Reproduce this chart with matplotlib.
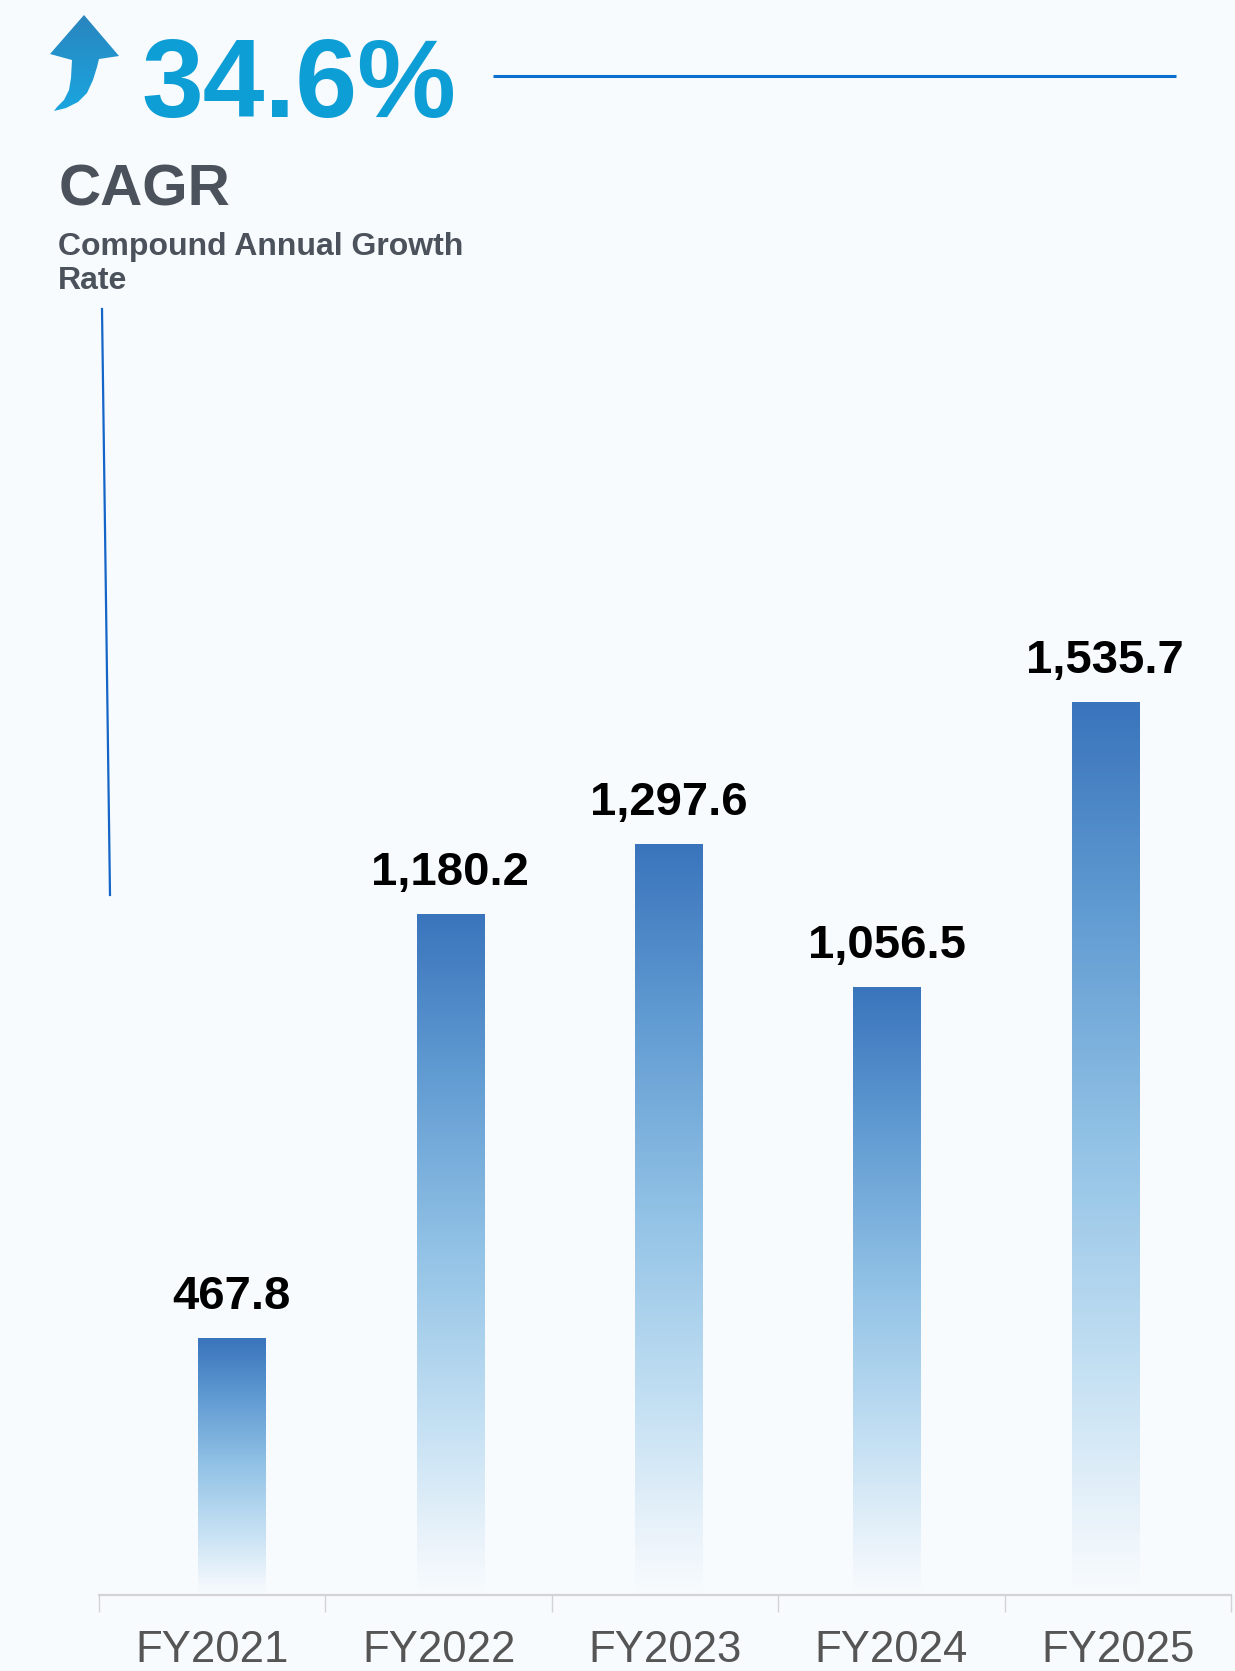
import numpy as np
import matplotlib
import matplotlib.pyplot as plt
from matplotlib.colors import LinearSegmentedColormap
from matplotlib.patches import Polygon

# ---- data ----
categories = ["FY2021", "FY2022", "FY2023", "FY2024", "FY2025"]
values = [467.8, 1180.2, 1297.6, 1056.5, 1535.7]
cagr_value = "34.6%"
cagr_title = "CAGR"
cagr_sub1 = "Compound Annual Growth"
cagr_sub2 = "Rate"

BG = "#F7FBFE"
W, H = 1235, 1671

fig = plt.figure(figsize=(W / 100, H / 100), dpi=100, facecolor=BG)

# decoration layer (figure pixel coordinates)
deco = fig.add_axes([0, 0, 1, 1], zorder=0)
deco.set_facecolor("none")

# arrow
arrow_pts = [(84, 15), (119, 56), (99, 59), (97, 67), (93, 80), (87, 93),
             (78, 102), (66, 108), (54, 111), (57, 107), (64, 100), (69, 90),
             (71, 78), (72, 60), (50, 54)]
poly = Polygon(arrow_pts, closed=True, facecolor="none", edgecolor="none")
deco.add_patch(poly)
acmap = LinearSegmentedColormap.from_list("a", ["#2A84BD", "#1AA6E0"])
agrad = np.linspace(0, 1, 128).reshape(-1, 1)
aim = deco.imshow(agrad, cmap=acmap, extent=(45, 125, 112, 12), aspect="auto",
                  origin="upper", interpolation="bicubic")
aim.set_clip_path(poly)

# lines
deco.plot([493, 1176], [76, 76], color="#0A6FD0", lw=2.2, solid_capstyle="butt")
deco.plot([102, 110], [309, 895], color="#1565C8", lw=1.6)
deco.set_xlim(0, W)
deco.set_ylim(H, 0)
deco.axis("off")

# texts
fig.text(141 / W, 1 - 117 / H, cagr_value, ha="left", va="baseline",
         fontsize=80, fontweight="bold", color="#0E9ED6",
         family=["Liberation Sans", "DejaVu Sans"])
fig.text(59 / W, 1 - 206 / H, cagr_title, ha="left", va="baseline",
         fontsize=42, fontweight="bold", color="#4B525B",
         family=["Liberation Sans", "DejaVu Sans"])
fig.text(58 / W, 1 - 255 / H, cagr_sub1, ha="left", va="baseline",
         fontsize=23, fontweight="bold", color="#4B525B",
         family=["Liberation Sans", "DejaVu Sans"])
fig.text(58 / W, 1 - 289 / H, cagr_sub2, ha="left", va="baseline",
         fontsize=23, fontweight="bold", color="#4B525B",
         family=["Liberation Sans", "DejaVu Sans"])

# ---- main bar axes ----
pos = [99 / W, 1 - 1595 / H, (1231 - 99) / W, (1595 - 300) / H]
ax = fig.add_axes(pos, zorder=2)
ax.set_facecolor("none")
x = np.arange(len(categories))
bars = ax.bar(x, values, width=0.307, color="none", edgecolor="none")
ax.set_xlim(-0.609, 4.577)
ax.set_ylim(36.3, 2210.6)
ybot = ax.get_ylim()[0]

cmap = LinearSegmentedColormap.from_list(
    "g", [(0.0, BG), (0.06, "#EEF5FB"), (0.25, "#C4E0F3"), (0.5, "#93C3E6"),
          (0.78, "#5E99D1"), (1.0, "#3A74BC")])
grad = np.linspace(0, 1, 256).reshape(-1, 1)
for b in bars:
    x0, y0 = b.get_x(), max(b.get_y(), ybot)
    w, top = b.get_width(), b.get_y() + b.get_height()
    im = ax.imshow(grad, cmap=cmap, extent=(x0, x0 + w, y0, top),
                   origin="lower", aspect="auto", interpolation="bicubic", zorder=2)
    im.set_clip_path(b)

for xi, v in zip(x, values):
    ax.annotate(f"{v:,.1f}", (xi, v), xytext=(0, 21), textcoords="offset points",
                ha="center", va="baseline", fontsize=34, fontweight="bold",
                color="black", family=["Liberation Sans", "DejaVu Sans"])

ax.set_xlim(-0.609, 4.577)
ax.set_ylim(36.3, 2210.6)
ax.set_xticks([])
ax.set_yticks([])
for s in ["top", "right", "left"]:
    ax.spines[s].set_visible(False)
ax.spines["bottom"].set_color("#D3D3D3")
ax.spines["bottom"].set_linewidth(1.6)

# ---- category axis ----
ax2 = fig.add_axes(pos, zorder=3)
ax2.set_facecolor("none")
ax2.set_xlim(0, len(categories))
ax2.set_ylim(0, 1)
ax2.set_xticks(np.arange(len(categories) + 1))
ax2.set_xticklabels([])
ax2.set_xticks(np.arange(len(categories)) + 0.5, minor=True)
ax2.set_xticklabels(categories, minor=True, fontsize=31.5, color="#555555",
                    family=["Liberation Sans", "DejaVu Sans"])
ax2.tick_params(axis="x", which="major", length=12, width=1, color="#D3D3D3")
ax2.tick_params(axis="x", which="minor", length=0, pad=25)
ax2.set_yticks([])
for s in ax2.spines.values():
    s.set_visible(False)

fig.savefig("out.png", dpi=100, facecolor=BG)
